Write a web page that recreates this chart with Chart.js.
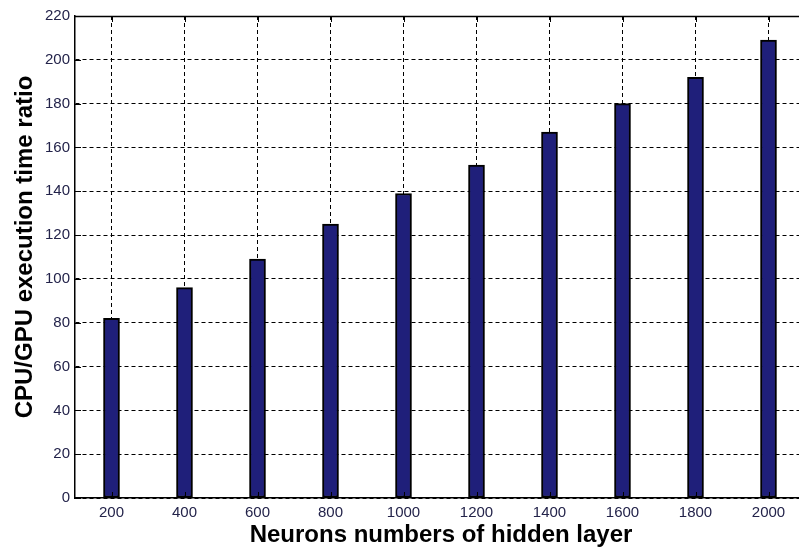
<!DOCTYPE html>
<html>
<head>
<meta charset="utf-8">
<script src="https://cdn.jsdelivr.net/npm/chart.js@4/dist/chart.umd.min.js"></script>
<style>
  html, body { margin: 0; padding: 0; background: #fff; overflow: hidden; }
  #wrap { width: 806px; height: 548px; }
</style>
</head>
<body>
<div id="wrap"><canvas id="c" width="806" height="548"></canvas></div>
<script>
// Hidden-layer sizes and the measured CPU/GPU speed-up ratio
const neurons = ['200', '400', '600', '800', '1000', '1200', '1400', '1600', '1800', '2000'];
const ratio = [82, 96, 109, 125, 139, 152, 167, 180, 192, 209];
const yMin = 0, yMax = 220, yStep = 20;
const xTitle = 'Neurons numbers of hidden layer';
const yTitle = 'CPU/GPU execution time ratio';

const FONT = '"Liberation Sans", Arial, sans-serif';

// Box frame, inward ticks and axis titles
const framePlugin = {
  id: 'frame',
  afterDraw(chart) {
    const { ctx, chartArea: a, scales } = chart;
    ctx.save();
    ctx.strokeStyle = '#000';
    ctx.lineWidth = 1.5;
    ctx.beginPath();
    ctx.moveTo(a.left, a.top + 0.5);
    ctx.lineTo(a.right, a.top + 0.5);
    ctx.stroke();
    ctx.lineWidth = 1;
    ctx.beginPath();
    scales.y.ticks.forEach(t => {
      const y = Math.round(scales.y.getPixelForValue(t.value)) + 0.5;
      ctx.moveTo(a.left, y); ctx.lineTo(a.left + 6, y);
    });
    neurons.forEach((_, i) => {
      const x = Math.round(scales.x.getPixelForValue(i)) + 0.5;
      ctx.moveTo(x, a.bottom); ctx.lineTo(x, a.bottom - 6);
      ctx.moveTo(x, a.top); ctx.lineTo(x, a.top + 6);
    });
    ctx.stroke();

    ctx.fillStyle = '#000';
    ctx.font = 'bold 24px ' + FONT;
    ctx.textAlign = 'center';
    ctx.textBaseline = 'alphabetic';
    ctx.fillText(xTitle, 441, 542);
    ctx.translate(32, 247);
    ctx.rotate(-Math.PI / 2);
    ctx.fillText(yTitle, 0, 0);
    ctx.restore();
  }
};

new Chart(document.getElementById('c'), {
  type: 'bar',
  data: {
    labels: neurons,
    datasets: [{
      data: ratio,
      backgroundColor: '#1f1f7a',
      borderColor: '#000',
      borderWidth: 2,
      borderSkipped: false,
      barThickness: 16
    }]
  },
  options: {
    responsive: false,
    animation: false,
    devicePixelRatio: 1,
    layout: { padding: { left: 0, top: 16, right: 1, bottom: 0 } },
    plugins: { legend: { display: false }, tooltip: { enabled: false } },
    scales: {
      x: {
        offset: true,
        grid: { offset: false, color: '#000', lineWidth: 1, drawTicks: false },
        border: { display: true, color: '#000', width: 1.5, dash: [4, 3] },
        ticks: { color: '#23234a', font: { family: FONT, size: 15 }, padding: 6, maxRotation: 0 },
        afterFit(s) { s.height = 50; }
      },
      y: {
        min: yMin, max: yMax,
        grid: { color: '#000', lineWidth: 1, drawTicks: false },
        border: { display: true, color: '#000', width: 1.5, dash: [4, 3] },
        ticks: { stepSize: yStep, color: '#23234a', font: { family: FONT, size: 15 }, padding: 5 },
        afterFit(s) { s.width = 75; }
      }
    }
  },
  plugins: [framePlugin]
});
</script>
</body>
</html>
